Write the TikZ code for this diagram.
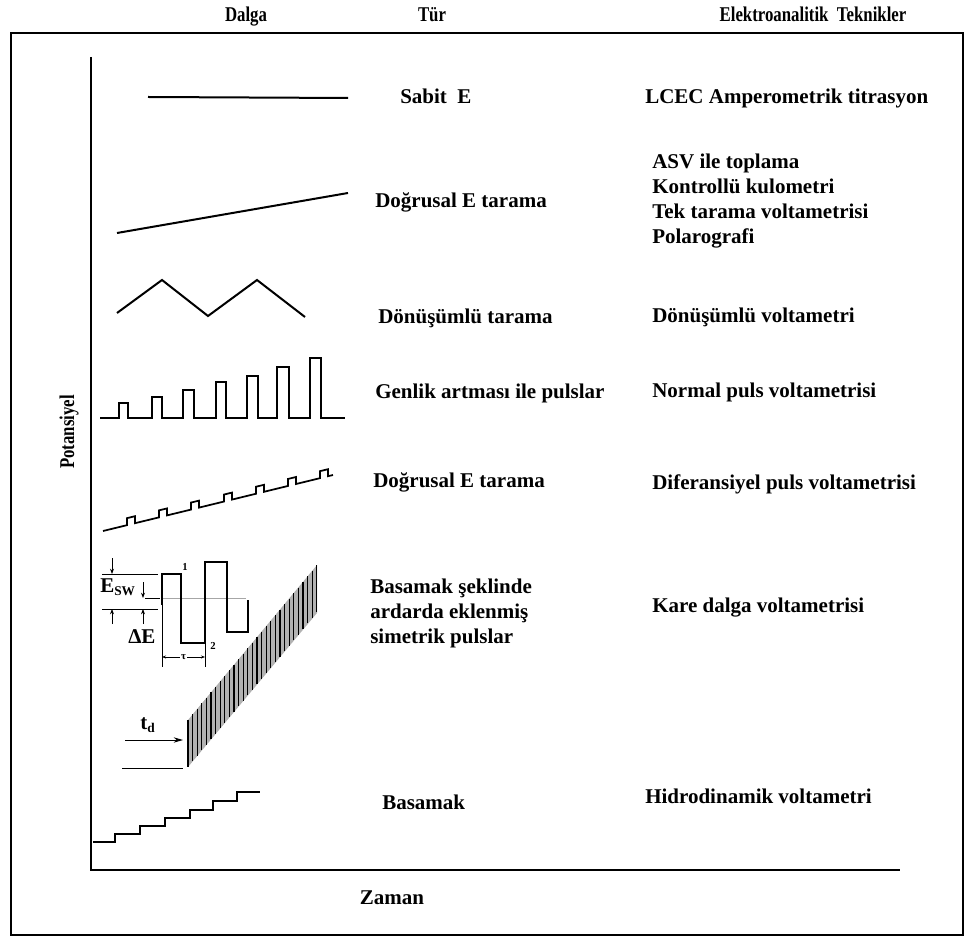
\documentclass[tikz,border=0pt]{standalone}
\usepackage{fontspec}
\setmainfont{Liberation Serif}
\usetikzlibrary{arrows.meta}
\newcommand{\narrow}[1]{\scalebox{.8}[1]{#1}}
\newcommand{\subtxt}[1]{\raisebox{-.35ex}{\fontsize{10}{10}\selectfont #1}}

\begin{document}
\begin{tikzpicture}[x=.75pt,y=-.75pt,
 font=\bfseries\fontsize{15.75}{18}\selectfont,
 txt/.style={anchor=base west,inner sep=0pt},
 head/.style={anchor=base,inner sep=0pt},
 small/.style={inner sep=0pt,font=\bfseries\fontsize{8}{8}\selectfont},
 wave/.style={line width=1.5pt,line join=miter},
 fine/.style={line width=.7pt},
 tip/.style={-{Stealth[length=4pt,width=3pt]},line width=.6pt}]
\path[use as bounding box] (0,0) rectangle (967,937);
\node[head] (hdalga) at (246,22) {\narrow{Dalga}};
\node[head] (htur) at (432,22) {\narrow{Tür}};
\node[head] (htek) at (813,22) {\narrow{Elektroanalitik\ \ Teknikler}};
\draw[line width=2.2pt] (11,33) rectangle (963,935);
\draw[line width=1.6pt] (91,57) -- (91,870) -- (900,870);
\node[head,rotate=90] (pot) at (74,432) {\narrow{Potansiyel}};
\node[head] (zaman) at (392,904) {Zaman};
% dalga
\draw[wave] (148,97) -- (348,98);
\draw[wave] (117,233) -- (348,193);
\draw[wave] (117,313) -- (162,280) -- (208,316) -- (257,280) -- (305,317);
\draw[wave] (100,418) foreach \a/\b/\t in {119/128/403,152/162/397,183/194/390,216/226/382,247/258/376,277/289/367,310/321/358}{
 -- (\a,418) -- (\a,\t) -- (\b,\t) -- (\b,418)} -- (345,418);
\draw[wave,line width=1.3pt] (103,531) foreach \x in {127,159,191,224,256,288,320}{
 -- (\x,{531-.2435*(\x-103)}) -- (\x,{524-.2435*(\x-103)})
 -- ({\x+8},{524-.2435*(\x+8-103)}) -- ({\x+8},{531-.2435*(\x+8-103)})} -- (333,475);
% kare dalga
\draw[gray!70,fine] (162,598) -- (246,598);
\draw[wave] (162,605) -- (162,574) -- (181,574) -- (181,643) -- (205,643) -- (205,562)
 -- (227,562) -- (227,632) -- (248,632) -- (248,600);
\node[small] (n1) at (185,567) {1};
\node[small] (n2) at (213,646) {2};
\draw[fine] (162,605) -- (162,667);
\draw[fine] (205,643) -- (205,667);
\draw[fine,{Stealth[length=3pt]}-{Stealth[length=3pt]}] (162,657) -- node[small,fill=white,inner sep=1pt] (tau) {τ} (205,657);
\draw[fine] (102,574) -- (158,574);
\draw[fine] (102,609) -- (158,609);
\draw[fine] (145,598) -- (160,598);
\draw[tip] (112,558) -- (112,574);
\draw[tip] (112,624) -- (112,609);
\draw[tip] (143,582) -- (143,598);
\draw[tip] (143,624) -- (143,609);
\node[txt] (esw) at (100,592) {E\subtxt{SW}};
\node[txt] (de) at (128,643) {ΔE};
\fill[gray!60] (188,720) -- (317,565) -- (317,613) -- (188,767) -- cycle;
\foreach \k in {0,...,28}{
 \draw[line width=.9pt] ({188+4.6*\k},{720-5.52*\k}) -- ++(0,47);
}
\node[txt] (td) at (140,729) {t\subtxt{d}};
\coordinate (tdA) at (125,740);
\coordinate (tdB) at (183,740);
\draw[fine,-{Stealth[length=7pt,width=4pt]}] (tdA) -- (tdB);
\draw[fine] (122,768) -- (183,768);
\draw[wave] (93,842) -- (115,842) -- (115,834) -- (140,834) -- (140,826) -- (165,826) -- (165,818)
 -- (190,818) -- (190,810) -- (213,810) -- (213,801) -- (237,801) -- (237,792) -- (260,792);
% tur
\node[txt] (typ1) at (400,104) {Sabit\ \ E};
\node[txt] (typ2) at (375,208) {Doğrusal E tarama};
\node[txt] (typ3) at (378,324) {Dönüşümlü tarama};
\node[txt] (typ4) at (375,399) {Genlik artması ile pulslar};
\node[txt] (typ5) at (373,488) {Doğrusal E tarama};
\foreach \s/\y [count=\i] in {Basamak şeklinde/593,ardarda eklenmiş/618,simetrik pulslar/643}{
 \node[txt] (typ6\i) at (370,\y) {\s};
}
\node[txt] (typ7) at (382,809) {Basamak};
% teknikler
\node[txt] (tec1) at (645,104) {LCEC Amperometrik titrasyon};
\foreach \s/\y [count=\i] in {ASV ile toplama/169,Kontrollü kulometri/194,Tek tarama voltametrisi/219,Polarografi/244}{
 \node[txt] (tec2\i) at (652,\y) {\s};
}
\node[txt] (tec3) at (652,323) {Dönüşümlü voltametri};
\node[txt] (tec4) at (652,398) {Normal puls voltametrisi};
\node[txt] (tec5) at (652,489) {Diferansiyel puls voltametrisi};
\node[txt] (tec6) at (652,612) {Kare dalga voltametrisi};
\node[txt] (tec7) at (645,803) {Hidrodinamik voltametri};
\end{tikzpicture}
\end{document}
